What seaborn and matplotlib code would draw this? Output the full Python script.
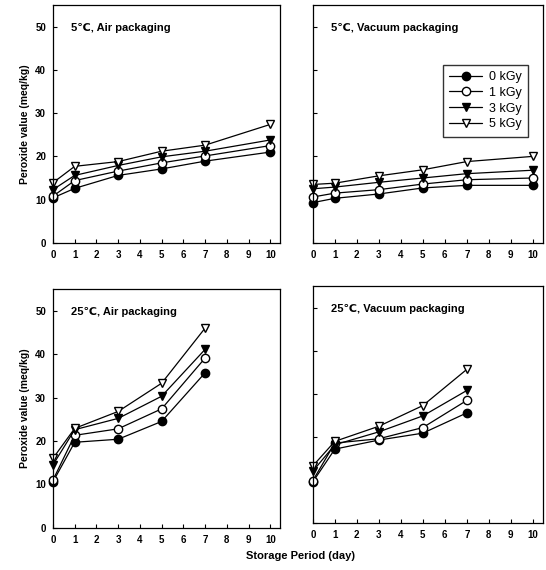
import matplotlib
matplotlib.use("Agg")
import matplotlib.pyplot as plt
import pandas as pd
import seaborn as sns

# Datos
doses = ["0 kGy", "1 kGy", "3 kGy", "5 kGy"]
days_5c = [0, 1, 3, 5, 7, 10]
days_25c = [0, 1, 3, 5, 7]

air_5c = {
    "0 kGy": [10.4, 12.6, 15.6, 17.1, 18.9, 21.0],
    "1 kGy": [10.8, 14.4, 16.6, 18.5, 20.1, 22.5],
    "3 kGy": [12.3, 15.6, 17.9, 19.9, 21.2, 23.8],
    "5 kGy": [13.9, 17.7, 18.8, 21.2, 22.6, 27.4],
}
vac_5c = {
    "0 kGy": [9.3, 10.3, 11.3, 12.7, 13.3, 13.3],
    "1 kGy": [10.6, 11.5, 12.3, 13.6, 14.6, 15.0],
    "3 kGy": [12.5, 12.9, 14.0, 15.0, 16.0, 16.8],
    "5 kGy": [13.5, 13.8, 15.5, 16.9, 18.8, 20.0],
}
air_25c = {
    "0 kGy": [10.6, 19.7, 20.4, 24.5, 35.7],
    "1 kGy": [11.0, 21.3, 22.8, 27.4, 39.1],
    "3 kGy": [14.5, 22.6, 25.2, 30.3, 41.1],
    "5 kGy": [16.0, 22.9, 26.8, 33.3, 46.0],
}
vac_25c = {
    "0 kGy": [9.6, 17.2, 19.3, 20.9, 25.6],
    "1 kGy": [9.9, 18.6, 19.6, 22.2, 28.5],
    "3 kGy": [12.1, 18.2, 21.2, 24.9, 30.8],
    "5 kGy": [13.3, 19.0, 22.5, 27.3, 35.7],
}

panels = [
    ("5\u2103, Air packaging", days_5c, air_5c),
    ("5\u2103, Vacuum packaging", days_5c, vac_5c),
    ("25\u2103, Air packaging", days_25c, air_25c),
    ("25\u2103, Vacuum packaging", days_25c, vac_25c),
]

markers = {"0 kGy": "o", "1 kGy": "o", "3 kGy": "v", "5 kGy": "v"}
faces = {"0 kGy": "black", "1 kGy": "white", "3 kGy": "black", "5 kGy": "white"}

sns.set_style("ticks")
plt.rcParams["font.family"] = ["Liberation Sans", "DejaVu Sans"]
plt.rcParams["font.weight"] = "bold"
for k in ["text.color", "axes.labelcolor", "xtick.color", "ytick.color", "axes.edgecolor"]:
    plt.rcParams[k] = "black"

fig = plt.figure(figsize=(5.46, 5.70), dpi=100)
boxes = [
    [0.097, 0.574, 0.416, 0.417],
    [0.573, 0.574, 0.421, 0.417],
    [0.097, 0.074, 0.416, 0.419],
    [0.573, 0.082, 0.421, 0.416],
]

for i, (title, days, vals) in enumerate(panels):
    ax = fig.add_axes(boxes[i])
    for d in doses:
        df = pd.DataFrame({"day": days, "pv": vals[d]})
        sns.lineplot(data=df, x="day", y="pv", ax=ax, color="black",
                     linewidth=0.9, marker=markers[d], markersize=6,
                     markerfacecolor=faces[d], markeredgecolor="black",
                     markeredgewidth=1.0, label=d, legend=False, clip_on=False)
    ax.set_xlim(0, 10.45)
    ax.set_ylim(0, 55)
    ax.set_xticks(range(0, 11))
    ax.set_yticks(range(0, 51, 10))
    ax.tick_params(direction="in", length=3, labelsize=7, width=0.8, pad=5)
    for s in ax.spines.values():
        s.set_linewidth(0.9)
    ax.set_xlabel("")
    if i % 2 == 0:
        ax.set_ylabel("Peroxide value (meq/kg)", fontsize=7.5, fontweight="bold")
    else:
        ax.set_ylabel("")
        ax.set_yticklabels([])
    ax.text(0.08, 0.905, title, transform=ax.transAxes, fontsize=8,
            fontweight="bold", va="center", ha="left")
    if i == 1:
        ax.legend(loc="upper right", bbox_to_anchor=(0.965, 0.775),
                  frameon=True, fancybox=False, edgecolor="black",
                  handlelength=2.6, borderpad=0.5, labelspacing=0.3,
                  handletextpad=0.6, prop={"weight": "normal", "size": 9})

fig.text(0.55, 0.015, "Storage Period (day)", ha="center", va="bottom",
         fontsize=8, fontweight="bold")

plt.savefig("out.png", dpi=100)
